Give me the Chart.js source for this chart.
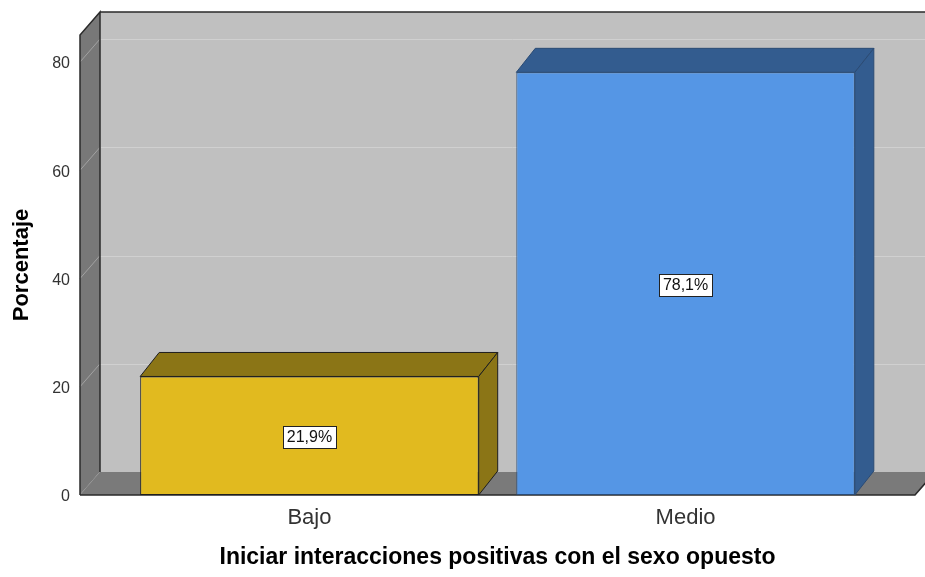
<!DOCTYPE html>
<html>
<head>
<meta charset="utf-8">
<script src="https://cdn.jsdelivr.net/npm/chart.js@4.4.0/dist/chart.umd.min.js"></script>
<style>
  html, body { margin: 0; padding: 0; background: #fff; }
  #wrap { width: 925px; height: 577px; }
</style>
</head>
<body>
<div id="wrap"><canvas id="chart"></canvas></div>
<script>
const categories = ['Bajo', 'Medio'];
const percentages = [21.9, 78.1];
const yTicks = [0, 20, 40, 60, 80];

const barColors = ['#e1ba1f', '#5596e5'];
const barShadeColors = ['#8b7516', '#335c8f'];
const barBorderColors = ['#1e1e1e', '#2b4b74'];

const FONT = "'Liberation Sans', Arial, sans-serif";
Chart.defaults.font.family = FONT;

// profundidad de paredes y barras (px)
const WALL_DX = 20, WALL_DY = 23;
const BAR_DX = 19, BAR_DY = 24;

const frame3d = {
    id: 'frame3d',
    beforeDatasetsDraw: (chart) => {
        const ctx = chart.ctx;
        const { left, right, top, bottom } = chart.chartArea;
        const yScale = chart.scales.y;
        const W = chart.width;

        ctx.save();
        // pared del fondo
        ctx.fillStyle = '#c0c0c0';
        ctx.fillRect(left + WALL_DX, top - WALL_DY, W - left - WALL_DX, bottom - top);

        // lineas de cuadricula en el fondo
        ctx.strokeStyle = '#d0d0d0';
        ctx.lineWidth = 1;
        yTicks.forEach(v => {
            if (v === 0) return;
            const y = Math.round(yScale.getPixelForValue(v) - WALL_DY) + 0.5;
            ctx.beginPath();
            ctx.moveTo(left + WALL_DX, y);
            ctx.lineTo(W, y);
            ctx.stroke();
        });

        // pared izquierda
        ctx.fillStyle = '#787878';
        ctx.beginPath();
        ctx.moveTo(left, top);
        ctx.lineTo(left + WALL_DX, top - WALL_DY);
        ctx.lineTo(left + WALL_DX, bottom - WALL_DY);
        ctx.lineTo(left, bottom);
        ctx.closePath();
        ctx.fill();

        ctx.strokeStyle = '#a2a2a2';
        yTicks.forEach(v => {
            const y = yScale.getPixelForValue(v);
            ctx.beginPath();
            ctx.moveTo(left, y);
            ctx.lineTo(left + WALL_DX, y - WALL_DY);
            ctx.stroke();
        });

        // suelo
        ctx.fillStyle = '#7a7a7a';
        ctx.beginPath();
        ctx.moveTo(left, bottom);
        ctx.lineTo(left + WALL_DX, bottom - WALL_DY);
        ctx.lineTo(right + WALL_DX, bottom - WALL_DY);
        ctx.lineTo(right, bottom);
        ctx.closePath();
        ctx.fill();

        // bordes
        ctx.strokeStyle = '#2a2a2a';
        ctx.lineWidth = 1.5;
        ctx.beginPath();
        ctx.moveTo(left + WALL_DX, top - WALL_DY);
        ctx.lineTo(W, top - WALL_DY);
        ctx.moveTo(left, bottom);
        ctx.lineTo(left, top);
        ctx.lineTo(left + WALL_DX, top - WALL_DY);
        ctx.lineTo(left + WALL_DX, bottom - WALL_DY);
        ctx.moveTo(left, bottom);
        ctx.lineTo(right, bottom);
        ctx.lineTo(right + WALL_DX, bottom - WALL_DY);
        ctx.stroke();
        ctx.restore();
    }
};

const bar3d = {
    id: 'bar3d',
    afterDatasetsDraw: (chart) => {
        const ctx = chart.ctx;
        const meta = chart.getDatasetMeta(0);

        ctx.save();
        meta.data.forEach((bar, i) => {
            const { x, y, width, base } = bar.getProps(['x', 'y', 'width', 'base'], true);
            const l = x - width / 2;
            const r = x + width / 2;

            ctx.fillStyle = barShadeColors[i];
            ctx.strokeStyle = barBorderColors[i];
            ctx.lineWidth = 1;

            // cara superior
            ctx.beginPath();
            ctx.moveTo(l, y);
            ctx.lineTo(l + BAR_DX, y - BAR_DY);
            ctx.lineTo(r + BAR_DX, y - BAR_DY);
            ctx.lineTo(r, y);
            ctx.closePath();
            ctx.fill();
            ctx.stroke();

            // cara lateral
            ctx.beginPath();
            ctx.moveTo(r, y);
            ctx.lineTo(r + BAR_DX, y - BAR_DY);
            ctx.lineTo(r + BAR_DX, base - BAR_DY);
            ctx.lineTo(r, base);
            ctx.closePath();
            ctx.fill();
            ctx.stroke();

            // etiqueta del valor
            const text = percentages[i].toFixed(1).replace('.', ',') + '%';
            ctx.font = '16px ' + FONT;
            const tw = ctx.measureText(text).width;
            const bw = Math.round(tw + 8), bh = 22;
            const cy = (y + base) / 2 + 1;
            const bx = Math.round(x - bw / 2) + 0.5;
            const by = Math.round(cy - bh / 2) + 0.5;
            ctx.fillStyle = '#ffffff';
            ctx.fillRect(bx, by, bw, bh);
            ctx.strokeStyle = '#222';
            ctx.strokeRect(bx, by, bw, bh);
            ctx.fillStyle = '#111';
            ctx.textAlign = 'center';
            ctx.textBaseline = 'middle';
            ctx.fillText(text, x, cy + 1);
        });
        ctx.restore();
    }
};

new Chart(document.getElementById('chart'), {
    type: 'bar',
    data: {
        datasets: [{
            data: categories.map((c, i) => ({ x: i, y: percentages[i] })),
            backgroundColor: barColors,
            borderColor: barBorderColors,
            borderWidth: 1,
            borderSkipped: false,
            barPercentage: 0.9,
            categoryPercentage: 1
        }]
    },
    options: {
        responsive: true,
        maintainAspectRatio: false,
        animation: false,
        layout: { padding: { top: 35, right: 10, left: 0, bottom: 0 } },
        plugins: {
            legend: { display: false },
            tooltip: { enabled: false }
        },
        scales: {
            x: {
                type: 'linear',
                min: -0.61,
                max: 1.61,
                offset: false,
                grid: { display: false, drawTicks: false },
                border: { display: false },
                afterBuildTicks: (scale) => { scale.ticks = categories.map((_, i) => ({ value: i })); },
                afterFit: (scale) => { scale.height = 82; },
                ticks: {
                    callback: (value) => categories[value],
                    autoSkip: false,
                    maxRotation: 0,
                    padding: 10,
                    color: '#333',
                    font: { size: 22 }
                },
                title: {
                    display: true,
                    text: 'Iniciar interacciones positivas con el sexo opuesto',
                    color: '#000',
                    font: { size: 23, weight: 'bold' },
                    padding: { top: 0, bottom: 6 }
                }
            },
            y: {
                min: 0,
                max: 85,
                grid: { display: false, drawTicks: false },
                border: { display: false },
                afterBuildTicks: (scale) => { scale.ticks = yTicks.map(v => ({ value: v })); },
                afterFit: (scale) => { scale.width = 80; },
                ticks: {
                    padding: 10,
                    labelOffset: 2,
                    color: '#333',
                    font: { size: 16 }
                },
                title: {
                    display: true,
                    text: 'Porcentaje',
                    color: '#000',
                    font: { size: 22, weight: 'bold' },
                    padding: { top: 9, bottom: 0 }
                }
            }
        }
    },
    plugins: [frame3d, bar3d]
});
</script>
</body>
</html>
